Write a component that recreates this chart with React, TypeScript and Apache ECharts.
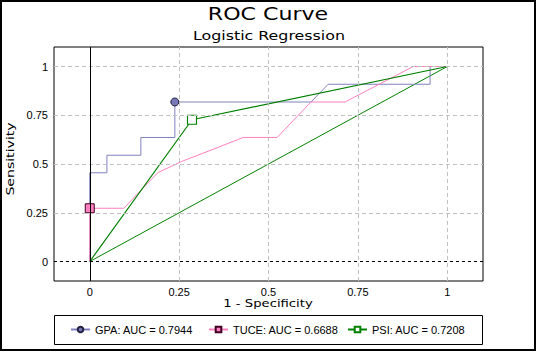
import React, { useEffect, useRef } from "react";
import * as echarts from "echarts";

// ROC curve points [1 - specificity, sensitivity]
const gpaPoints: number[][] = [
  [0, 0], [0, 0.455], [0.048, 0.455], [0.048, 0.545], [0.143, 0.545], [0.143, 0.636],
  [0.238, 0.636], [0.238, 0.818], [0.619, 0.818], [0.667, 0.909], [0.952, 0.909],
  [0.952, 1], [1, 1],
];
const gpaMarkerIndex = 7;

const tucePoints: number[][] = [
  [0, 0], [0, 0.273], [0.095, 0.273], [0.19, 0.455], [0.257, 0.513], [0.36, 0.586],
  [0.429, 0.636], [0.524, 0.636], [0.619, 0.818], [0.714, 0.818], [0.905, 1], [1, 1],
];
const tuceMarkerIndex = 1;

const psiPoints: number[][] = [[0, 0], [0.286, 0.727], [1, 1]];
const psiMarkerIndex = 1;

const referencePoints: number[][] = [[0, 0], [1, 1]];

const seriesNames = ["GPA: AUC = 0.7944", "TUCE: AUC = 0.6688", "PSI: AUC = 0.7208"];
const tickValues = [0, 0.25, 0.5, 0.75, 1];
const gridValues = [0.25, 0.5, 0.75, 1];

const FONT = "'Liberation Sans', Arial, sans-serif";
const WIDE = "'DejaVu Sans', sans-serif";

function withMarker(points: number[][], idx: number) {
  return points.map((p, i) => (i === idx ? { value: p } : { value: p, symbol: "none" }));
}

export default function App() {
  const ref = useRef<HTMLDivElement>(null);
  useEffect(() => {
    if (!ref.current) return;
    const chart = echarts.init(ref.current, undefined, { renderer: "svg" });
    const gridStyle = { color: "#c0c0c0", type: [4, 3] as any, width: 1 };
    const legendBase = {
      top: 324,
      padding: 0,
      itemWidth: 19,
      itemHeight: 7,
      textStyle: { fontSize: 11, fontFamily: FONT, color: "#000" },
      selectedMode: false,
    };
    chart.setOption({
      animation: false,
      backgroundColor: "#fff",
      grid: { left: 54, right: 55, top: 47, bottom: 71, show: true, borderColor: "#000", borderWidth: 1, backgroundColor: "transparent" },
      xAxis: {
        type: "value", min: -0.1, max: 1.1,
        axisLine: { show: false }, axisTick: { show: false }, splitLine: { show: false },
        axisLabel: { customValues: tickValues, margin: 5, fontSize: 11, fontFamily: FONT, color: "#000" },
      },
      yAxis: {
        type: "value", min: -0.1, max: 1.1,
        axisLine: { show: false }, axisTick: { show: false }, splitLine: { show: false },
        axisLabel: { customValues: tickValues, margin: 6, fontSize: 11, fontFamily: FONT, color: "#000" },
      },
      legend: [
        { ...legendBase, left: 70, data: [seriesNames[0]] },
        { ...legendBase, left: 208, data: [seriesNames[1]] },
        { ...legendBase, left: 347, data: [seriesNames[2]] },
      ],
      graphic: [
        { type: "rect", shape: { x: 1, y: 1, width: 534, height: 349 }, style: { fill: "none", stroke: "#000", lineWidth: 2 }, silent: true },
        { type: "rect", shape: { x: 54.5, y: 315.5, width: 428, height: 29 }, style: { fill: "none", stroke: "#000", lineWidth: 1 }, silent: true },
        { type: "text", x: 268, y: 14.5, scaleX: 1.3, style: { text: "ROC Curve", font: `17px ${WIDE}`, fill: "#000", align: "center", verticalAlign: "middle", textAlign: "center", textVerticalAlign: "middle" } },
        { type: "text", x: 269, y: 35.5, scaleX: 1.27, style: { text: "Logistic Regression", font: `12.5px ${WIDE}`, fill: "#000", align: "center", verticalAlign: "middle", textAlign: "center", textVerticalAlign: "middle" } },
        { type: "text", x: 268, y: 303, scaleX: 1.2, style: { text: "1 - Specificity", font: `11px ${WIDE}`, fill: "#000", align: "center", verticalAlign: "middle", textAlign: "center", textVerticalAlign: "middle" } },
        { type: "text", x: 10.5, y: 159, rotation: Math.PI / 2, scaleX: 1.28, style: { text: "Sensitivity", font: `11px ${WIDE}`, fill: "#000", align: "center", verticalAlign: "middle", textAlign: "center", textVerticalAlign: "middle" } },
      ],
      series: [
        {
          name: "grid", type: "line", data: [], z: 1, silent: true,
          markLine: {
            silent: true, symbol: ["none", "none"], label: { show: false }, animation: false,
            emphasis: { disabled: true },
            data: [
              ...gridValues.map((v) => ({ xAxis: v, lineStyle: gridStyle })),
              ...gridValues.map((v) => ({ yAxis: v, lineStyle: gridStyle })),
              { xAxis: 0, lineStyle: { color: "#000", type: "solid", width: 1 } },
              { yAxis: 0, lineStyle: { color: "#000", type: [3, 3], width: 1 } },
            ],
          },
        },
        {
          name: "Reference", type: "line", z: 3, data: referencePoints, symbol: "none",
          lineStyle: { color: "#008000", width: 1 }, silent: true,
        },
        {
          name: seriesNames[0], type: "line", z: 3, data: withMarker(gpaPoints, gpaMarkerIndex),
          symbol: "circle", symbolSize: 8, showSymbol: true, showAllSymbol: true,
          lineStyle: { color: "#8080c0", width: 1 },
          itemStyle: { color: "#7878b8", borderColor: "#202040", borderWidth: 1 },
        },
        {
          name: seriesNames[1], type: "line", z: 3, data: withMarker(tucePoints, tuceMarkerIndex),
          symbol: "rect", symbolSize: 9, showSymbol: true, showAllSymbol: true,
          lineStyle: { color: "#ff80c0", width: 1 },
          itemStyle: { color: "#ff80c0", borderColor: "#400020", borderWidth: 1 },
        },
        {
          name: seriesNames[2], type: "line", z: 3, data: withMarker(psiPoints, psiMarkerIndex),
          symbol: "rect", symbolSize: 9, showSymbol: true, showAllSymbol: true,
          lineStyle: { color: "#008000", width: 1.2 },
          itemStyle: { color: "#fff", borderColor: "#008000", borderWidth: 1.2 },
        },
      ],
    });
    return () => chart.dispose();
  }, []);
  return (
    <div
      ref={ref}
      style={{ position: "fixed", left: 0, top: 0, width: 538, height: 352, background: "#fff" }}
    />
  );
}
